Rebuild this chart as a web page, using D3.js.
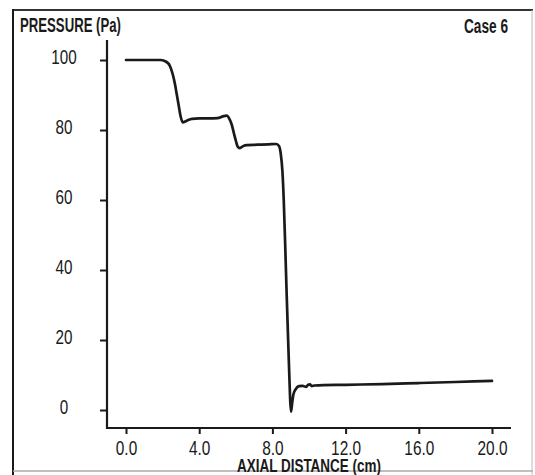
<!DOCTYPE html>
<html>
<head>
<meta charset="utf-8">
<script src="https://cdn.jsdelivr.net/npm/d3@7"></script>
<style>
  html, body { margin: 0; padding: 0; background: #fff; }
  svg text { font-family: "Liberation Sans Narrow", "Arial Narrow", "Liberation Sans", sans-serif; fill: #1a1a1a; }
</style>
</head>
<body>
<svg id="chart" width="535" height="475"></svg>
<script>
// ---- data ----
const axialDistance = [0, 1.0, 1.9, 2.2, 2.4, 2.55, 2.68, 2.78, 2.88, 2.98, 3.1, 3.3, 3.6, 4.0, 4.5, 5.0, 5.3, 5.5, 5.65, 5.78, 5.9, 6.0, 6.1, 6.22, 6.4, 6.6, 7.2, 7.8, 8.2, 8.35, 8.45, 8.55, 8.62, 8.7, 8.78, 8.86, 8.93, 8.98, 9.02, 9.08, 9.15, 9.28, 9.45, 9.65, 9.85, 9.95, 10.05, 10.15, 10.3, 12, 14, 16, 18, 20];
const pressure      = [100, 100, 100, 99.5, 98.3, 96, 93, 90, 87, 84, 82.2, 82.6, 83.2, 83.3, 83.3, 83.4, 83.9, 84.1, 83.2, 81.5, 79, 77, 75.3, 74.8, 75.4, 75.7, 75.8, 75.9, 76, 75.5, 73.5, 68, 60, 47, 33, 20, 9, 2, -0.5, 2, 4.5, 6, 6.8, 6.9, 6.6, 7.2, 7.3, 6.8, 7.0, 7.2, 7.4, 7.7, 8.0, 8.3];
const xTicks = [0, 4, 8, 12, 16, 20];
const yTicks = [0, 20, 40, 60, 80, 100];
const yTitle = "PRESSURE (Pa)";
const xTitle = "AXIAL DISTANCE (cm)";
const caseLabel = "Case 6";

const svg = d3.select("#chart");
const ink = "#1a1a1a";

// frame
svg.append("line").attr("x1", 13).attr("y1", 10).attr("x2", 533).attr("y2", 10).attr("stroke", "#333").attr("stroke-width", 2);
svg.append("line").attr("x1", 13).attr("y1", 9).attr("x2", 13).attr("y2", 475).attr("stroke", ink).attr("stroke-width", 2);
svg.append("line").attr("x1", 532).attr("y1", 10).attr("x2", 532).attr("y2", 475).attr("stroke", "#bbb").attr("stroke-width", 1);
svg.append("line").attr("x1", 13).attr("y1", 471).attr("x2", 533).attr("y2", 471).attr("stroke", "#aaa").attr("stroke-width", 1.5);

const x = d3.scaleLinear().domain([0, 20]).range([126, 492]);
const y = d3.scaleLinear().domain([0, 100]).range([410, 60]);

const x0 = 107, y0 = 428;

function condense(sel, f) {
  sel.each(function () {
    const w = this.getComputedTextLength();
    d3.select(this).attr("textLength", w * f).attr("lengthAdjust", "spacingAndGlyphs");
  });
}

// axes
const xAxis = svg.append("g").attr("transform", `translate(0,${y0})`)
  .call(d3.axisBottom(x).tickValues(xTicks).tickSize(6).tickSizeOuter(0).tickFormat(d3.format(".1f")));
xAxis.select(".domain").remove();
xAxis.selectAll(".tick line").attr("stroke", ink).attr("stroke-width", 2);
xAxis.selectAll(".tick text").attr("y", 27).attr("dy", 0).attr("font-size", 20).attr("fill", ink).call(condense, 0.77);

const yAxis = svg.append("g").attr("transform", `translate(${x0},0)`)
  .call(d3.axisLeft(y).tickValues(yTicks).tickSize(7).tickSizeOuter(0));
yAxis.select(".domain").remove();
yAxis.selectAll(".tick line").attr("stroke", ink).attr("stroke-width", 2);
yAxis.selectAll(".tick text").attr("x", -43).attr("dy", 3).attr("text-anchor", "middle").attr("font-size", 19.5).attr("fill", ink).call(condense, 0.78);

// axis lines
svg.append("line").attr("x1", x0).attr("y1", y0).attr("x2", 511).attr("y2", y0).attr("stroke", ink).attr("stroke-width", 2.2);
svg.append("line").attr("x1", x0).attr("y1", 40).attr("x2", x0).attr("y2", y0 + 1).attr("stroke", ink).attr("stroke-width", 2.2);

// curve
const pts = axialDistance.map((d, i) => [d, pressure[i]]);
svg.append("path")
  .datum(pts)
  .attr("fill", "none")
  .attr("stroke", ink)
  .attr("stroke-width", 2.7)
  .attr("stroke-linejoin", "round")
  .attr("stroke-linecap", "round")
  .attr("d", d3.line().x(d => x(d[0])).y(d => y(d[1])).curve(d3.curveMonotoneX));

// titles
svg.append("text").attr("x", 20).attr("y", 32).attr("font-size", 20).attr("font-weight", "bold")
  .attr("textLength", 101).attr("lengthAdjust", "spacingAndGlyphs").text(yTitle);
svg.append("text").attr("x", 464).attr("y", 33).attr("font-size", 20).attr("font-weight", "bold")
  .attr("textLength", 44).attr("lengthAdjust", "spacingAndGlyphs").text(caseLabel);
svg.append("text").attr("x", 237).attr("y", 472).attr("font-size", 19).attr("font-weight", "bold")
  .attr("textLength", 144).attr("lengthAdjust", "spacingAndGlyphs").text(xTitle);
</script>
</body>
</html>
